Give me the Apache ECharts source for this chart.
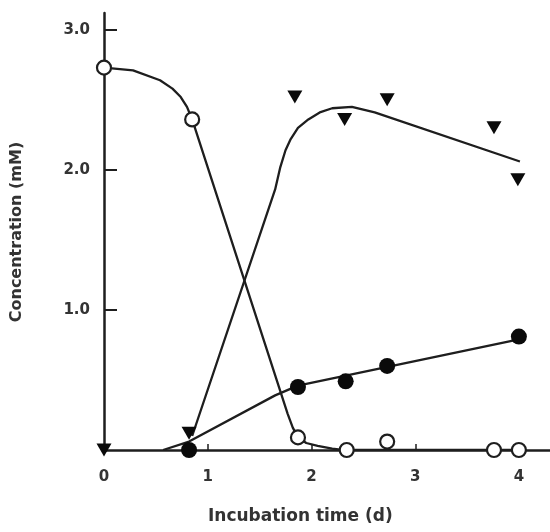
<!DOCTYPE html>
<html>
<head>
<meta charset="utf-8">
<script src="https://cdn.jsdelivr.net/npm/echarts@6/dist/echarts.min.js"></script>
<style>html,body{margin:0;padding:0;background:#fff}#c{width:550px;height:532px}</style>
</head>
<body>
<div id="c"></div>
<script>
// Measured points
var openCircles = [[0,2.73],[0.85,2.36],[1.87,0.09],[2.34,0],[2.73,0.06],[3.76,0],[4.0,0]];
var triangles = [[0,0],[0.82,0.12],[1.84,2.52],[2.32,2.36],[2.73,2.5],[3.76,2.3],[3.99,1.93]];
var filledCircles = [[0.82,0],[1.87,0.45],[2.33,0.49],[2.73,0.6],[4.0,0.81]];
// Fitted curves as drawn in the figure
var openCurve = [[0,2.73],[0.28,2.71],[0.54,2.64],[0.66,2.58],[0.74,2.52],[0.8,2.45],[0.85,2.36],[1.77,0.26],[1.82,0.16],[1.87,0.09],[1.95,0.05],[2.06,0.03],[2.2,0.01],[2.3,0],[4.0,0]];
var triangleCurve = [[0.85,0.1],[1.65,1.86],[1.70,2.02],[1.75,2.14],[1.80,2.22],[1.87,2.30],[1.97,2.36],[2.08,2.41],[2.2,2.44],[2.39,2.45],[2.61,2.41],[4.01,2.06]];
var filledCurve = [[0.57,0],[0.82,0.06],[1.65,0.39],[1.87,0.46],[4.0,0.79]];
var xTicks = [0,1,2,3,4];
var yTickLabels = ['3.0','2.0','1.0'];

var ink = '#1e1e1e';
var chart = echarts.init(document.getElementById('c'));
function lineSeries(d){
  return {type:'line', data:d, showSymbol:false, symbol:'none', smooth:false,
    lineStyle:{color:ink, width:2.3}, z:2, silent:true, animation:false};
}
chart.setOption({
  animation:false,
  grid:[
    {left:104, right:0, top:13, bottom:82},
    {left:104, width:415, top:13, bottom:82}
  ],
  xAxis:[
    {type:'value', gridIndex:0, min:0, max:4.3, interval:1,
      axisLine:{show:true, lineStyle:{color:ink, width:2.5}},
      axisTick:{show:false},
      splitLine:{show:false},
      axisLabel:{show:false}
    },
    {type:'value', gridIndex:1, min:0, max:4, interval:1,
      axisLine:{show:false},
      axisTick:{show:true, inside:true, length:6, lineStyle:{color:ink, width:1.5}},
      splitLine:{show:false},
      axisLabel:{margin:20, color:'#333', fontFamily:'DejaVu Sans', fontWeight:'bold', fontSize:15,
        formatter:function(v){ return xTicks.indexOf(v) >= 0 ? String(v) : ''; }}
    }
  ],
  yAxis:[
    {type:'value', gridIndex:0, min:0, max:3.12, interval:1,
      axisLine:{show:true, onZero:false, lineStyle:{color:ink, width:2.5}},
      axisTick:{show:true, inside:true, length:13, lineStyle:{color:ink, width:2},
        customValues:[1,2,3]},
      splitLine:{show:false},
      axisLabel:{margin:14, color:'#333', fontFamily:'DejaVu Sans', fontWeight:'bold', fontSize:15,
        padding:[7,0,0,0],
        formatter:function(v){ var i = 3 - Math.round(v); return (v>0 && Math.abs(v-Math.round(v))<1e-6 && i>=0 && i<yTickLabels.length) ? yTickLabels[i] : ''; }}
    },
    {type:'value', gridIndex:1, min:0, max:3.12, show:false}
  ],
  graphic:[
    {type:'text', left:208, top:508, style:{text:'Incubation time (d)', fill:'#333', font:'bold 17px "DejaVu Sans"'}},
    {type:'text', x:17, y:232, rotation:Math.PI/2, style:{text:'Concentration (mM)', fill:'#333', font:'bold 16px "DejaVu Sans"', align:'center', verticalAlign:'middle'}}
  ],
  series:[
    lineSeries(openCurve),
    lineSeries(triangleCurve),
    lineSeries(filledCurve),
    {type:'scatter', data:openCircles, symbol:'circle', symbolSize:14,
      itemStyle:{color:'#fff', borderColor:ink, borderWidth:2.2, opacity:1}, z:5},
    {type:'scatter', data:filledCircles, symbol:'circle', symbolSize:16,
      itemStyle:{color:'#0a0a0a', opacity:1}, z:5},
    {type:'scatter', data:triangles, symbol:'triangle', symbolRotate:180, symbolSize:[15,13],
      itemStyle:{color:'#0a0a0a', opacity:1}, z:5}
  ]
});
</script>
</body>
</html>
